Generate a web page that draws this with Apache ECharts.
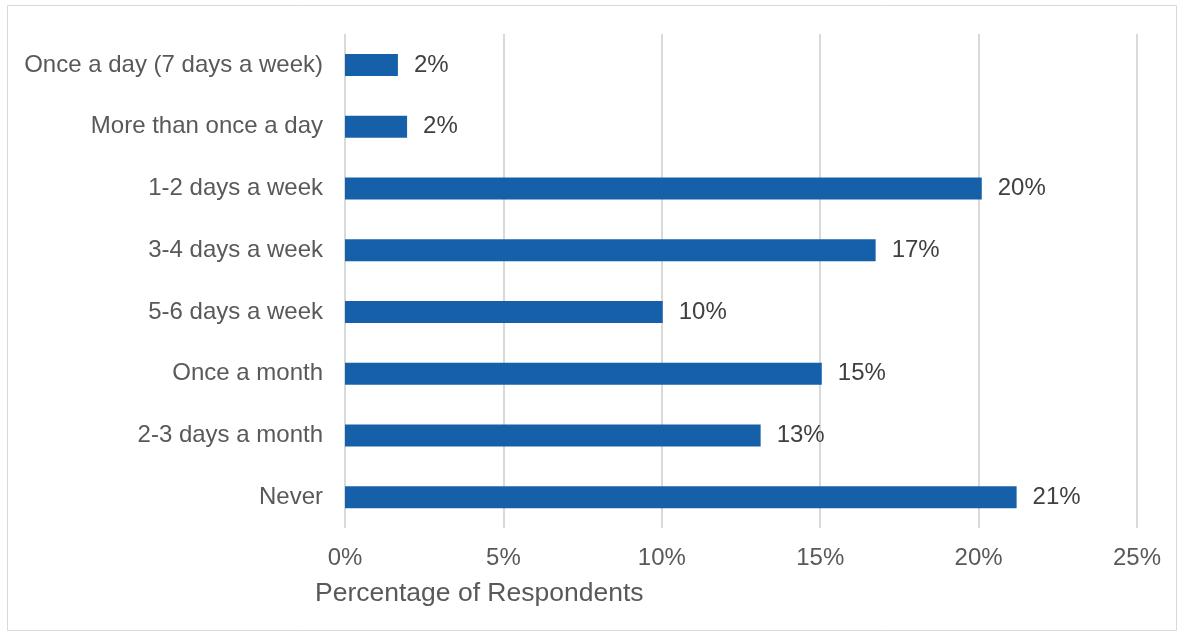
<!DOCTYPE html>
<html><head><meta charset="utf-8">
<script src="https://cdn.jsdelivr.net/npm/echarts@6/dist/echarts.min.js"></script>
<style>html,body{margin:0;padding:0;background:#fff}#c{width:1184px;height:636px}</style>
</head><body><div id="c"></div>
<script>
const categories = ["Once a day (7 days a week)", "More than once a day", "1-2 days a week", "3-4 days a week", "5-6 days a week", "Once a month", "2-3 days a month", "Never"];
const values = [1.67, 1.96, 20.1, 16.75, 10.03, 15.05, 13.12, 21.2];
const axisTitle = "Percentage of Respondents";

const chart = echarts.init(document.getElementById('c'), null, {renderer: 'canvas'});
const font = 'Liberation Sans, Arial, sans-serif';
chart.setOption({
  animation: false,
  backgroundColor: '#fff',
  grid: {left: 345, right: 47, top: 34, bottom: 108, containLabel: false},
  xAxis: {
    type: 'value', min: 0, max: 25, interval: 5,
    axisLine: {show: false}, axisTick: {show: false},
    splitLine: {lineStyle: {color: '#d9d9d9', width: 2}},
    axisLabel: {formatter: v => v + '%', color: '#595959', fontSize: 24, fontFamily: font, margin: 18}
  },
  yAxis: {
    type: 'category', data: categories, inverse: true,
    axisLine: {show: false}, axisTick: {show: false},
    axisLabel: {color: '#595959', fontSize: 24, fontFamily: font, margin: 22}
  },
  series: [{
    type: 'bar', data: values, barWidth: 22,
    itemStyle: {color: '#1660AA'},
    label: {show: true, position: 'right', distance: 16, color: '#404040', fontSize: 24, fontFamily: font,
      formatter: p => Math.round(p.value) + '%'}
  }],
  graphic: [
    {type: 'rect', shape: {x: 7.5, y: 5.5, width: 1169, height: 625}, style: {fill: null, stroke: '#d9d9d9', lineWidth: 1}, silent: true, z: -1},
    {type: 'text', left: 315, top: 580, style: {text: axisTitle, fill: '#595959', font: '26.5px ' + font}}
  ]
});
</script></body></html>
